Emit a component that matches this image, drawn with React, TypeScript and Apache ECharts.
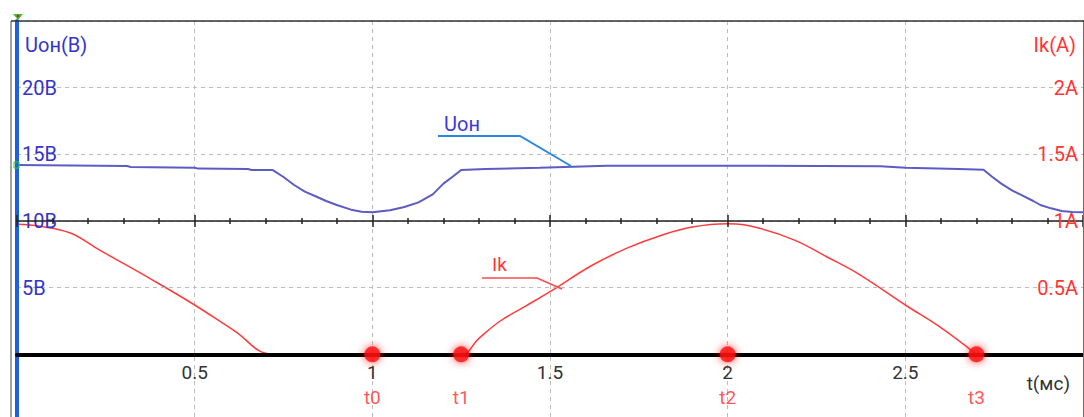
import React, { useEffect, useRef } from "react";
import * as echarts from "echarts";

// Uон (V) curve
const tU = [0, 0.31, 0.32, 0.5, 0.51, 0.65, 0.66, 0.72, 0.75, 0.78, 0.81, 0.845, 0.87, 0.9, 0.94, 0.97, 1.0, 1.05, 1.09, 1.13, 1.17, 1.2, 1.225, 1.25, 1.32, 1.47, 1.66, 2.0, 2.43, 2.5, 2.65, 2.72, 2.745, 2.77, 2.8, 2.83, 2.86, 2.88, 2.91, 2.94, 2.97, 3.0];
const uVolts = [14.2, 14.12, 14.05, 14.0, 13.93, 13.9, 13.82, 13.82, 13.3, 12.7, 12.2, 11.8, 11.5, 11.2, 10.85, 10.7, 10.65, 10.8, 11.05, 11.4, 12.0, 12.8, 13.3, 13.82, 13.9, 14.0, 14.15, 14.15, 14.1, 14.0, 13.9, 13.85, 13.3, 12.8, 12.3, 11.9, 11.5, 11.2, 10.95, 10.75, 10.67, 10.65];

// Ik (A) curve
const tI = [0, 0.065, 0.15, 0.234, 0.383, 0.5, 0.61, 0.72, 1.25, 1.3, 1.36, 1.43, 1.5, 1.62, 1.72, 1.81, 1.9, 2.0, 2.09, 2.19, 2.28, 2.37, 2.5, 2.6, 2.7];
const iAmps = [0.975, 0.96, 0.91, 0.78, 0.555, 0.37, 0.18, 0, 0, 0.12, 0.25, 0.36, 0.47, 0.67, 0.8, 0.89, 0.955, 0.98, 0.945, 0.855, 0.73, 0.6, 0.37, 0.2, 0];

// marked instants
const markerT = [1, 1.25, 2, 2.7];
const markerNames = ["t0", "t1", "t2", "t3"];

// tick labels
const leftTickValues = [5, 10, 15, 20];
const rightTickValues = [0.5, 1, 1.5, 2];
const xTickValues = [0.5, 1, 1.5, 2, 2.5];

const FONT = "Roboto";
const dashed = { type: [4, 4] as any, color: "#bdbdbd", width: 1 };

export default function App() {
  const ref = useRef<HTMLDivElement>(null);
  useEffect(() => {
    document.body.style.margin = "0";
    if (!ref.current) return;
    const chart = echarts.init(ref.current, undefined, { renderer: "svg" });
    const near = (arr: number[], v: number) => arr.some((a) => Math.abs(a - v) < 1e-6);
    const gridBase = { left: 17, right: 1, top: 21, outerBoundsMode: "none", containLabel: false };
    const hiddenY = (gridIndex: number) => ({ gridIndex, type: "value", min: 0, max: 1, show: false });
    const option: any = {
      animation: false,
      backgroundColor: "#ffffff",
      textStyle: { fontFamily: FONT },
      grid: [
        { ...gridBase, height: 400 }, // full plot, -5..25 V
        { ...gridBase, height: 200 }, // bottom edge at 10 V
        { ...gridBase, height: 333.33 }, // bottom edge at 0 V
      ],
      xAxis: [
        {
          gridIndex: 0,
          type: "value",
          min: 0,
          max: 3,
          interval: 0.5,
          axisLine: { show: false },
          axisTick: { show: false },
          axisLabel: { show: false },
          splitLine: { show: true, lineStyle: dashed },
          z: 1,
        },
        {
          gridIndex: 1,
          type: "value",
          min: 0,
          max: 3,
          interval: 0.5,
          position: "bottom",
          axisLine: { show: true, onZero: false, lineStyle: { color: "#222", width: 1.5 } },
          axisTick: { show: true, inside: false, length: 6, lineStyle: { color: "#222", width: 1.5 } },
          minorTick: { show: true, splitNumber: 5, length: 3, lineStyle: { color: "#222", width: 1.5 } },
          axisLabel: { show: false },
          splitLine: { show: false },
          z: 7,
        },
        {
          gridIndex: 1,
          type: "value",
          min: 0,
          max: 3,
          interval: 0.5,
          position: "bottom",
          axisLine: { show: false, onZero: false },
          axisTick: { show: true, inside: true, length: 6, lineStyle: { color: "#222", width: 1.5 } },
          minorTick: { show: true, splitNumber: 5, length: 3, lineStyle: { color: "#222", width: 1.5 } },
          axisLabel: { show: false },
          splitLine: { show: false },
          z: 7,
        },
        {
          gridIndex: 2,
          type: "value",
          min: 0,
          max: 3,
          interval: 0.5,
          position: "bottom",
          axisLine: { show: true, onZero: false, lineStyle: { color: "#000", width: 4 } },
          axisTick: { show: false },
          axisLabel: {
            formatter: (v: number) => (near(xTickValues, v) ? String(v) : ""),
            color: "#333",
            fontSize: 19,
            margin: 9,
            fontFamily: FONT,
          },
          splitLine: { show: false },
          z: 7,
        },
      ],
      yAxis: [
        {
          gridIndex: 0,
          type: "value",
          min: -5,
          max: 25,
          interval: 5,
          position: "left",
          axisLine: { show: true, onZero: false, lineStyle: { color: "#1f5fe6", width: 4 } },
          axisTick: { show: false },
          axisLabel: {
            inside: true,
            margin: 5,
            formatter: (v: number) => (near(leftTickValues, v) ? `${v}В` : ""),
            color: "#3434c8",
            fontSize: 20,
            fontFamily: FONT,
          },
          splitLine: { show: true, lineStyle: dashed },
          z: 6,
        },
        {
          gridIndex: 0,
          type: "value",
          min: -0.5,
          max: 2.5,
          interval: 0.5,
          position: "right",
          axisLine: { show: true, onZero: false, lineStyle: { color: "#ff3030", width: 1 } },
          axisTick: { show: false },
          axisLabel: {
            inside: true,
            margin: 5,
            formatter: (v: number) => (near(rightTickValues, v) ? `${v}A` : ""),
            color: "#ff3535",
            fontSize: 20,
            fontFamily: FONT,
          },
          splitLine: { show: false },
          z: 8,
        },
        hiddenY(1),
        hiddenY(2),
      ],
      series: [
        {
          type: "line",
          name: "Uон",
          xAxisIndex: 0,
          yAxisIndex: 0,
          data: tU.map((t, i) => [t, uVolts[i]]),
          showSymbol: false,
          smooth: false,
          lineStyle: { color: "#5c5cc4", width: 2 },
          z: 3,
        },
        {
          type: "line",
          name: "Ik",
          xAxisIndex: 0,
          yAxisIndex: 1,
          data: tI.map((t, i) => [t, iAmps[i]]),
          showSymbol: false,
          smooth: 0.4,
          lineStyle: { color: "#ff3b3b", width: 1.5 },
          z: 3,
        },
        {
          type: "scatter",
          xAxisIndex: 0,
          yAxisIndex: 0,
          data: markerT.map((t, i) => ({ value: [t, 0], name: markerNames[i] })),
          symbolSize: 16,
          itemStyle: { color: "#ff0f0f", shadowBlur: 9, shadowColor: "rgba(255,0,0,0.9)" },
          label: {
            show: true,
            formatter: "{b}",
            position: "inside",
            offset: [0, 43],
            color: "#ff2a2a",
            fontSize: 19,
            fontFamily: FONT,
          },
          z: 9,
        },
      ],
      graphic: [
        { type: "line", shape: { x1: 11, y1: 21, x2: 1084, y2: 21 }, style: { stroke: "#333", lineWidth: 1.5 }, z: 10 },
        { type: "line", shape: { x1: 11, y1: 21, x2: 11, y2: 417 }, style: { stroke: "#444", lineWidth: 1 }, z: 10 },
        { type: "polygon", shape: { points: [[13, 14], [23, 14], [18, 20]] }, style: { fill: "#2ecc2e" }, z: 11 },
        { type: "circle", shape: { cx: 18, cy: 16, r: 1.5 }, style: { fill: "#e02020" }, z: 12 },
        { type: "rect", shape: { x: 14, y: 162, width: 5, height: 6 }, style: { fill: "none", stroke: "#2ecc2e", lineWidth: 1 }, z: 11 },
        {
          type: "text",
          x: 25,
          y: 45,
          style: { text: "Uон(В)", fill: "#3434c8", font: `20px ${FONT}`, verticalAlign: "middle", align: "left" },
          z: 10,
        },
        {
          type: "text",
          x: 1076,
          y: 45,
          style: { text: "Ik(A)", fill: "#ff3535", font: `20px ${FONT}`, verticalAlign: "middle", align: "right" },
          z: 10,
        },
        {
          type: "text",
          x: 1070,
          y: 383,
          style: { text: "t(мс)", fill: "#333", font: `19px ${FONT}`, verticalAlign: "middle", align: "right" },
          z: 10,
        },
        {
          type: "text",
          x: 444,
          y: 124,
          style: { text: "Uон", fill: "#3a3ad6", font: `20px ${FONT}`, verticalAlign: "middle", align: "left" },
          z: 10,
        },
        {
          type: "polyline",
          shape: { points: [[438, 136], [520, 136], [571, 166]] },
          style: { stroke: "#2b86e0", lineWidth: 2, fill: "none" },
          z: 10,
        },
        {
          type: "text",
          x: 492,
          y: 264,
          style: { text: "Ik", fill: "#ff3535", font: `19px ${FONT}`, verticalAlign: "middle", align: "left" },
          z: 10,
        },
        {
          type: "polyline",
          shape: { points: [[482, 278], [537, 278], [562, 289]] },
          style: { stroke: "#ff4a4a", lineWidth: 1.5, fill: "none" },
          z: 10,
        },
      ],
    };
    chart.setOption(option);
    return () => chart.dispose();
  }, []);
  return <div ref={ref} style={{ position: "absolute", left: 0, top: 0, width: 1084, height: 417 }} />;
}
